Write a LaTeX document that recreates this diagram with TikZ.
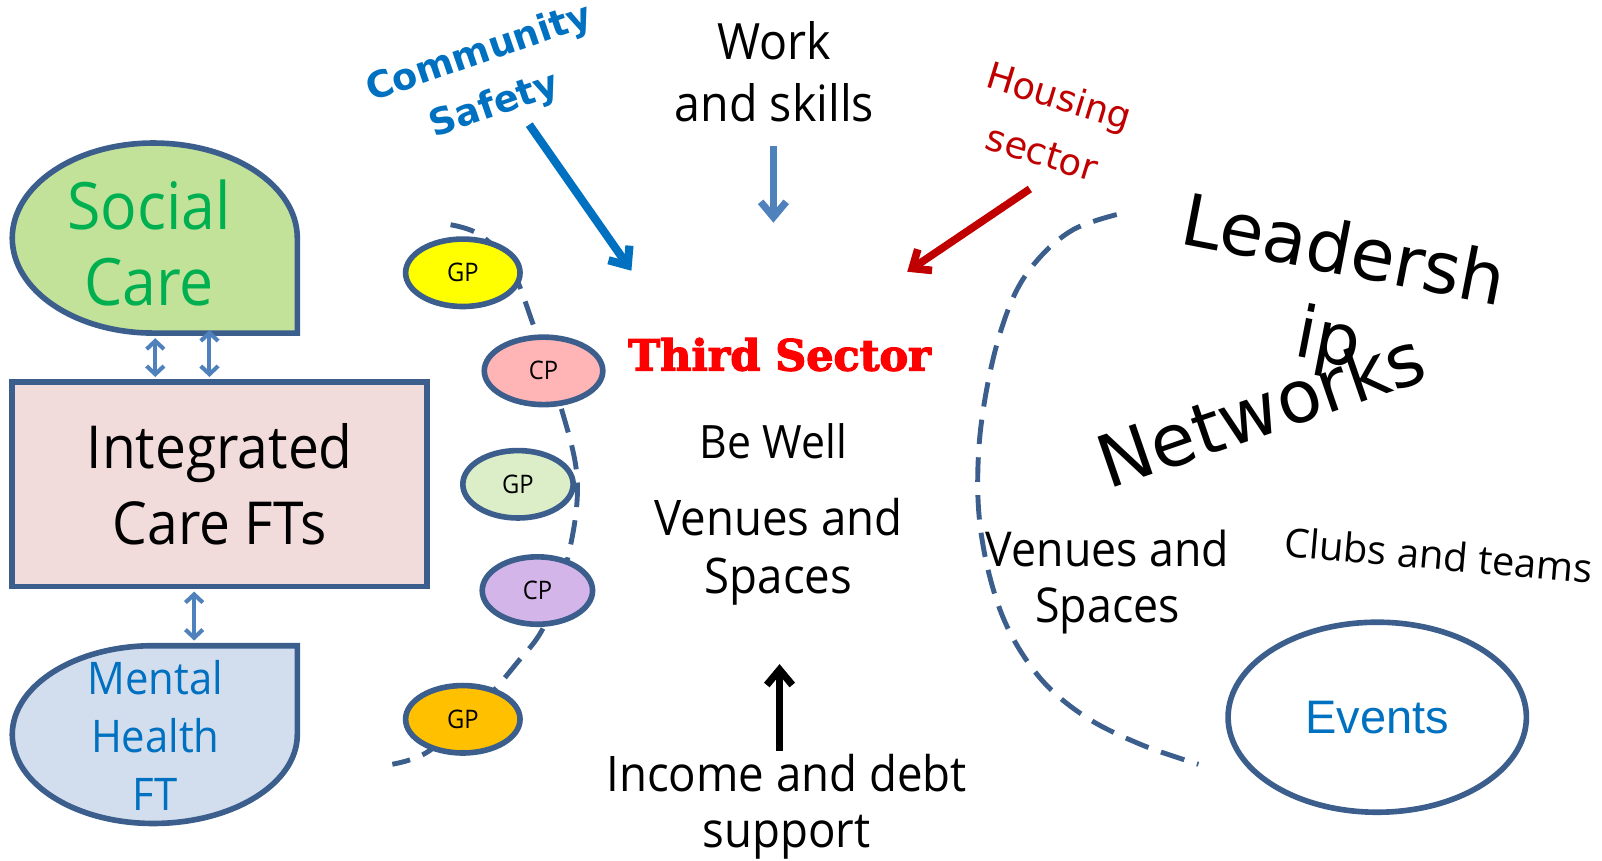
\documentclass[tikz,border=0pt]{standalone}
\usepackage{fontspec}
\setmainfont{Open Sans}[FakeStretch=0.93]
\newfontfamily\wideopen{Open Sans}
\newfontfamily\versans{DejaVu Sans}
\newfontfamily\heavyserif{DejaVu Serif}[FakeBold=3]
\newfontfamily\arialfont{Liberation Sans}
\usetikzlibrary{arrows.meta,shapes.geometric}

\definecolor{boxline}{HTML}{3B5E8C}
\definecolor{linkblue}{HTML}{4F81BD}
\definecolor{brightblue}{HTML}{0070C0}
\definecolor{textgreen}{HTML}{00B050}
\definecolor{darkred}{HTML}{C00000}
\definecolor{socialfill}{HTML}{C2E29A}
\definecolor{icfill}{HTML}{F2DCDB}
\definecolor{mhfill}{HTML}{D2DEEE}
\definecolor{gpyellow}{HTML}{FFFF00}
\definecolor{cppink}{HTML}{FFB5B5}
\definecolor{gpgreen}{HTML}{DCEEC8}
\definecolor{cplilac}{HTML}{D3B5E9}
\definecolor{gporange}{HTML}{FFC000}

\newcommand\sz[2]{\fontsize{#1}{#2}\selectfont}

\tikzset{
  outline/.style={draw=boxline, line width=5.5pt},
  practice/.style={ellipse, outline, minimum width=112pt, minimum height=66pt,
    inner sep=0pt, font=\sz{25}{28}},
  netline/.style={draw=boxline, line width=4.8pt, dash pattern=on 24pt off 13pt},
  twoway/.style={draw=linkblue, line width=4pt,
    {Straight Barb[length=8pt,width=17pt]}-{Straight Barb[length=8pt,width=17pt]}},
  feed/.style={line width=7pt, -{Straight Barb[length=15pt,width=25pt]}},
  label/.style={align=center, inner sep=0pt},
}

\begin{document}
\begin{tikzpicture}[x=1pt, y=-1pt]
\useasboundingbox (0,0) rectangle (1568,842);

% ---- left column: care organisations
\draw[outline, fill=socialfill] (291,326) -- (150,326)
  arc[start angle=90, end angle=270, x radius=138, y radius=93]
  arc[start angle=270, end angle=360, x radius=141, y radius=93] -- cycle;
\node[label, text=textgreen, font=\sz{64}{74}] (social) at (146,238) {Social\\Care};

\node[outline, fill=icfill, minimum width=406pt, minimum height=200pt, inner sep=0pt,
  align=center, font=\sz{58}{74}] (icft) at (215,474) {Integrated\\Care FTs};

\draw[outline, fill=mhfill] (291,632) -- (150,632)
  arc[start angle=270, end angle=90, x radius=138, y radius=87]
  arc[start angle=90, end angle=0, x radius=141, y radius=87] -- cycle;
\node[label, text=brightblue, font=\sz{44}{57}] (mental) at (152,720) {Mental\\Health\\FT};

\coordinate (scA) at (152,331); \coordinate (icA) at (152,369);
\coordinate (scB) at (205,323); \coordinate (icB) at (205,369);
\coordinate (icC) at (190,579); \coordinate (mhC) at (190,627);
\draw[twoway] (scA) -- (icA);
\draw[twoway] (scB) -- (icB);
\draw[twoway] (icC) -- (mhC);

% ---- practices along a dashed network line
\coordinate (n1) at (441,220);
\coordinate (n2) at (384,748);
\draw[netline] plot[smooth, tension=0.6] coordinates {
  (441,220) (470,230) (500,262) (522,318) (548,395) (565,470)
  (556,545) (533,612) (505,650) (470,690) (420,735) (384,748)};
\node[practice, fill=gpyellow] (gp1) at (453,267) {GP};
\node[practice, fill=cppink, minimum width=116pt] (cp1) at (532,363) {CP};
\node[practice, fill=gpgreen, minimum width=108pt] (gp2) at (507,474) {GP};
\node[practice, fill=cplilac, minimum width=108pt] (cp2) at (526,578) {CP};
\node[practice, fill=gporange] (gp3) at (453,704) {GP};

% ---- third sector centre
\node[label, text=red, font=\heavyserif\bfseries\sz{42}{50}] (third) at (763,347) {Third Sector};
\node[label, font=\sz{45}{50}] (bewell) at (757,432) {Be Well};
\node[label, font=\sz{48}{57}] (venues) at (762,540) {Venues and\\Spaces};

% ---- inputs
\node[label, font=\sz{49}{61}] (work) at (758,70) {Work\\and skills};
\coordinate (workA) at (757,143); \coordinate (workB) at (757,218);
\draw[feed, draw=linkblue] (workA) -- (workB);

\node[label, text=brightblue, font=\versans\bfseries\sz{36}{44}, rotate=19] (community) at (469,53) {Community};
\node[label, text=brightblue, font=\versans\bfseries\sz{36}{44}, rotate=19] (safety) at (484,104) {Safety};
\coordinate (csA) at (518,122); \coordinate (csB) at (618,265);
\draw[feed, draw=brightblue, line width=8pt] (csA) -- (csB);

\node[label, text=darkred, font=\versans\sz{36}{44}, rotate=-17] (housing) at (1036,97) {Housing};
\node[label, text=darkred, font=\versans\sz{36}{44}, rotate=-17] (sector) at (1020,150) {sector};
\coordinate (hsA) at (1008,185); \coordinate (hsB) at (888,266);
\draw[feed, draw=darkred, line width=7.5pt] (hsA) -- (hsB);

\node[label, font=\sz{48}{55}] (income) at (770,790) {Income and debt\\support};
\coordinate (inA) at (763,735); \coordinate (inB) at (763,650);
\draw[feed, draw=black] (inA) -- (inB);

% ---- wider networks
\draw[netline] plot[smooth, tension=0.6] coordinates {
  (1093,210) (1050,225) (1015,255) (990,295) (970,360) (958,440)
  (960,520) (980,600) (1015,660) (1060,700) (1115,728) (1173,748)};

\node[label, font=\versans\sz{70}{80}, rotate=-11] (leadersh) at (1316,243) {Leadersh};
\node[label, font=\versans\sz{70}{80}, rotate=-11] (ip) at (1300,335) {ip};
\node[label, font=\versans\sz{71}{80}, rotate=19] (networks) at (1234,400) {Networks};

\node[label, font=\sz{47}{55}] (venues2) at (1084,570) {Venues and\\Spaces};
\node[label, font=\wideopen\sz{39}{44}, rotate=-5] (clubs) at (1408,543) {Clubs and teams};

\node[ellipse, outline, fill=white, minimum width=292pt, minimum height=186pt,
  text=brightblue, font=\arialfont\sz{46}{52}] (events) at (1348,702) {Events};
\end{tikzpicture}
\end{document}
